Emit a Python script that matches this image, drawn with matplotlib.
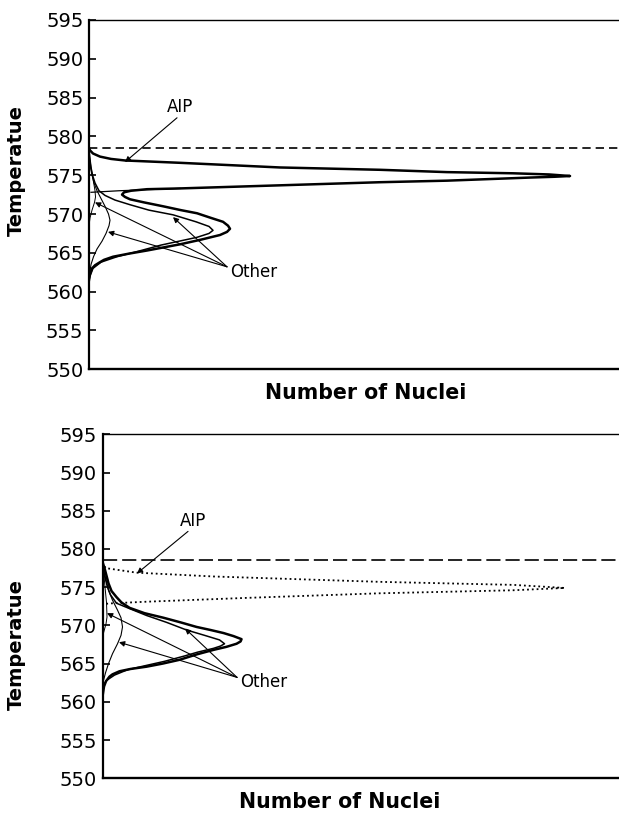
import matplotlib
matplotlib.use("Agg")
from matplotlib import pyplot as plt

plt.rcParams['font.family'] = ['DejaVu Sans']

# temperature axis
t_ticks = [550, 555, 560, 565, 570, 575, 580, 585, 590, 595]
t_onset = 578.5

# ---- upper panel (AIP shown as solid line) ----
top_total_t = [578.5, 578.2, 577.8, 577.4, 577.1, 576.9, 576.6, 576.0, 575.7, 575.4,
               575.25, 575.1, 574.9, 574.8, 574.7, 574.3, 574.1, 573.7, 573.3, 573.2,
               573.0, 572.8, 572.5, 572.2, 571.9, 571.5, 571.0, 570.5, 570.1, 569.5,
               569.0, 568.5, 568.1, 567.7, 567.3, 566.7, 566.1, 565.3, 564.9, 564.5,
               564.1, 563.8, 563.4, 563.0, 562.3, 561.5]
top_total_n = [0, 1, 4, 11, 22, 36, 91, 191, 291, 358,
               424, 460, 481, 465, 441, 358, 291, 191, 91, 58,
               42, 35, 33, 36, 41, 55, 74, 92, 108, 122,
               134, 139, 141, 138, 131, 112, 91, 58, 40, 24,
               15, 11, 6, 3, 1, 0]
top_aip_t = [573.3, 573.0, 572.8]
top_aip_n = [91, 30, 2]
top_other2_t = [578.3, 577.0, 576.0, 575.0, 574.0, 573.0, 572.4, 571.8, 571.2, 570.5,
                569.9, 569.0, 568.4, 567.9, 567.5, 567.0, 566.5, 566.0, 565.3, 564.5,
                563.8, 563.0, 562.0, 561.5]
top_other2_n = [0, 1, 2, 3.5, 6, 10, 16, 26, 41, 60,
                84, 107, 120, 124, 120, 108, 90, 72, 52, 28,
                12, 4, 1, 0]
top_other3_t = [578.0, 577.0, 576.0, 575.0, 574.0, 573.0, 572.0, 571.0, 570.0, 569.2,
                568.5, 567.5, 566.5, 565.5, 564.5, 563.5, 562.5, 561.5]
top_other3_n = [0, 0.5, 1.5, 3, 5, 8, 12, 16, 19.5, 21,
                20, 17, 13, 8, 4.5, 2, 0.8, 0]
top_other4_t = [578.0, 576.0, 574.5, 573.0, 572.2, 571.5, 570.5, 569.5, 568.5]
top_other4_n = [0, 2, 4, 6, 6.5, 5.5, 3, 1, 0]

# ---- lower panel (AIP shown dotted) ----
bot_aip_t = [578.3, 577.5, 576.9, 576.4, 575.7, 575.5, 575.3, 574.9,
             574.6, 574.4, 574.2, 573.6, 573.1, 572.9, 572.8]
bot_aip_n = [0, 3, 34, 111, 277, 344, 411, 462,
             411, 344, 277, 144, 44, 11, 0]
bot_total_t = [578.3, 577.5, 576.5, 575.5, 574.5, 573.7, 573.0, 572.3, 571.6, 571.0,
               570.4, 569.8, 569.4, 569.0, 568.6, 568.2, 567.9, 567.6, 567.2, 566.8,
               566.2, 565.5, 565.0, 564.6, 564.3, 564.0, 563.6, 563.3, 562.7, 562.0,
               560.7]
bot_total_n = [0, 2, 4, 6, 9, 14, 19, 27, 42, 61,
               78, 94, 108, 121, 131, 139, 138, 134, 124, 111,
               94, 77, 60, 44, 28, 17, 10, 7, 3.5, 1.5,
               0]
bot_other2_t = [578.0, 576.5, 575.0, 574.0, 572.9, 572.2, 571.3, 570.4, 569.4, 568.7,
                568.1, 567.6, 567.3, 567.0, 566.5, 566.0, 565.3, 564.8, 564.2, 563.5,
                562.8, 562.0]
bot_other2_n = [0, 2, 5, 8, 14, 27, 44, 64, 84, 102,
                117, 122, 118, 111, 95, 82, 62, 45, 25, 12,
                4, 0]
bot_other3_t = [578.0, 577.0, 576.0, 574.6, 573.3, 572.0, 571.0, 569.8, 568.7, 567.6,
                566.3, 565.0, 563.8, 562.8, 561.0]
bot_other3_n = [0, 1.5, 3.5, 6, 10, 15, 18.5, 20, 18.5, 15,
                10, 6, 3, 1, 0]
bot_other4_t = [578.0, 576.5, 575.0, 573.0, 571.1, 570.2, 569.5, 568.5]
bot_other4_n = [0, 1.5, 2.5, 4, 4.5, 3.5, 2, 0]

fig = plt.figure(figsize=(6.19, 8.13), dpi=100)
ax1 = fig.add_axes([0.1438, 0.5458, 0.87, 0.4296])
ax2 = fig.add_axes([0.1656, 0.0427, 0.85, 0.4231])


def style_axes(ax, xmax):
    ax.set_ylim(550, 595)
    ax.set_xlim(0, xmax)
    ax.set_yticks(t_ticks)
    ax.set_xticks([])
    ax.tick_params(axis='y', direction='in', length=5, width=1.2, labelsize=14, pad=4)
    ax.spines['right'].set_visible(False)
    ax.spines['left'].set_linewidth(1.6)
    ax.spines['bottom'].set_linewidth(1.7)
    ax.spines['top'].set_linewidth(1.0)
    ax.set_xlabel('Number of Nuclei', fontsize=14.8, fontweight='bold')
    ax.set_ylabel('Temperatue', fontsize=14, fontweight='bold')


arrow = dict(arrowstyle='-|>', color='black', lw=0.8, mutation_scale=8,
             shrinkA=0, shrinkB=0)


def pointer(ax, tail, heads):
    for head in heads:
        ax.annotate('', xy=head, xytext=tail, arrowprops=arrow)


# upper panel
ax1.axhline(t_onset, color='black', lw=1.2, ls=(0, (5, 3)))
ax1.plot(top_total_n, top_total_t, color='black', lw=1.8)
ax1.plot(top_aip_n, top_aip_t, color='black', lw=0.9)
ax1.plot(top_other2_n, top_other2_t, color='black', lw=1.1)
ax1.plot(top_other3_n, top_other3_t, color='black', lw=0.8)
ax1.plot(top_other4_n, top_other4_t, color='black', lw=0.7)
style_axes(ax1, 538.5)
ax1.text(78, 583.8, 'AIP', fontsize=12, ha='left', va='center')
pointer(ax1, (88, 582.4), [(36, 576.7)])
ax1.text(141, 562.5, 'Other', fontsize=12, ha='left', va='center')
pointer(ax1, (138, 563.2), [(6, 571.5), (19, 567.7), (84, 569.6)])
ax1.yaxis.set_label_coords(-0.117, 0.57)
ax1.xaxis.set_label_coords(0.514, -0.04)

# lower panel
ax2.axhline(t_onset, color='black', lw=1.2, ls=(0, (8.5, 3)))
ax2.plot(bot_aip_n, bot_aip_t, color='black', lw=1.3, ls=':')
ax2.plot(bot_total_n, bot_total_t, color='black', lw=1.8)
ax2.plot(bot_other2_n, bot_other2_t, color='black', lw=1.1)
ax2.plot(bot_other3_n, bot_other3_t, color='black', lw=0.8)
ax2.plot(bot_other4_n, bot_other4_t, color='black', lw=0.7)
style_axes(ax2, 526)
ax2.text(77.5, 583.6, 'AIP', fontsize=12, ha='left', va='center')
pointer(ax2, (85.5, 582.3), [(34.5, 576.8)])
ax2.text(137.5, 562.6, 'Other', fontsize=12, ha='left', va='center')
pointer(ax2, (134.5, 563.2), [(4.5, 571.6), (16.5, 567.8), (82.5, 569.6)])
ax2.yaxis.set_label_coords(-0.145, 0.39)
ax2.xaxis.set_label_coords(0.45, -0.041)

fig.savefig('out.png', dpi=100)
